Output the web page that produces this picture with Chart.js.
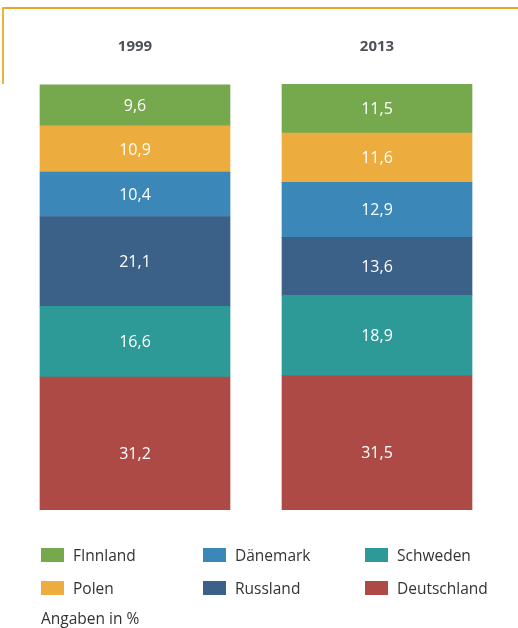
<!DOCTYPE html>
<html>
<head>
<meta charset="utf-8">
<script src="https://cdn.jsdelivr.net/npm/chart.js@4"></script>
<style>
  html, body { margin: 0; padding: 0; background: #fff; }
  #wrap { position: relative; width: 518px; height: 628px; overflow: hidden; }
  #c { position: absolute; left: 0; top: 0; }
  .frameTop { position: absolute; left: 2px; top: 7px; width: 516px; height: 2px; background: #e9a526; }
  .frameLeft { position: absolute; left: 2px; top: 7px; width: 2px; height: 77px; background: #efb23a; }
  #legend { position: absolute; left: 41px; top: 545px; font-family: "Open Sans", "Noto Sans", sans-serif; font-size: 15.5px; color: #333; }
  .item { position: absolute; white-space: nowrap; height: 20px; line-height: 20px; }
  .sw { position: absolute; left: 0; top: 3px; width: 23px; height: 14px; }
  .lt { position: absolute; left: 32px; top: 0; }
  #note { position: absolute; left: 41px; top: 608px; font-family: "Open Sans", "Noto Sans", sans-serif; font-size: 15.5px; color: #333; line-height: 20px; }
</style>
</head>
<body>
<div id="wrap">
  <canvas id="c" width="518" height="628"></canvas>
  <div class="frameTop"></div>
  <div class="frameLeft"></div>
  <div id="legend"></div>
  <div id="note">Angaben in %</div>
</div>
<script>
// Data
const categories = ["1999", "2013"];
const countries = ["Deutschland", "Schweden", "Russland", "Dänemark", "Polen", "FInnland"];
const deutschland = [31.2, 31.5];
const schweden    = [16.6, 18.9];
const russland    = [21.1, 13.6];
const daenemark   = [10.4, 12.9];
const polen       = [10.9, 11.6];
const finnland    = [9.6, 11.5];
const colors = ["#ad4a45", "#2e9a97", "#3c6188", "#3a87b8", "#edad3e", "#76a84e"];
const legendOrder = ["FInnland", "Dänemark", "Schweden", "Polen", "Russland", "Deutschland"];

const seriesValues = [deutschland, schweden, russland, daenemark, polen, finnland];

const datasets = countries.map((name, i) => ({
  label: name,
  data: seriesValues[i],
  backgroundColor: colors[i],
  borderWidth: 0,
  barThickness: 190
}));

// small visual nudges of the value labels (px), per dataset index
const labelNudge = { 0: 10 };

const valueLabels = {
  id: 'valueLabels',
  afterDatasetsDraw(chart) {
    const ctx = chart.ctx;
    ctx.save();
    ctx.fillStyle = '#ffffff';
    ctx.font = '500 16px "Open Sans", "Noto Sans", sans-serif';
    ctx.textAlign = 'center';
    ctx.textBaseline = 'middle';
    chart.data.datasets.forEach((ds, di) => {
      const meta = chart.getDatasetMeta(di);
      meta.data.forEach((bar, j) => {
        const y = (bar.y + bar.base) / 2 + (labelNudge[di] || 0);
        ctx.fillText(ds.data[j].toFixed(1).replace('.', ','), bar.x, y + 1);
      });
    });
    ctx.restore();
  }
};

new Chart(document.getElementById('c'), {
  type: 'bar',
  data: { labels: categories, datasets },
  options: {
    responsive: false,
    animation: false,
    layout: { padding: { left: 14, right: 20, top: 30, bottom: 118 } },
    plugins: { legend: { display: false }, tooltip: { enabled: false } },
    scales: {
      x: {
        stacked: true,
        position: 'top',
        grid: { display: false, drawTicks: false },
        border: { display: false },
        ticks: {
          color: '#4b5259',
          font: { family: '"Open Sans", "Noto Sans", sans-serif', size: 15, weight: 'bold' },
          padding: 28
        },
        afterFit(s) { s.height = 54; }
      },
      y: {
        stacked: true,
        display: false,
        min: 0,
        max: 100
      }
    }
  },
  plugins: [valueLabels]
});

// HTML legend
const legend = document.getElementById('legend');
legendOrder.forEach((name, k) => {
  const idx = countries.indexOf(name);
  const col = k % 3, row = Math.floor(k / 3);
  const el = document.createElement('div');
  el.className = 'item';
  el.style.left = (col * 162) + 'px';
  el.style.top = (row * 33) + 'px';
  el.innerHTML = '<span class="sw" style="background:' + colors[idx] + '"></span><span class="lt">' + name + '</span>';
  legend.appendChild(el);
});
</script>
</body>
</html>
